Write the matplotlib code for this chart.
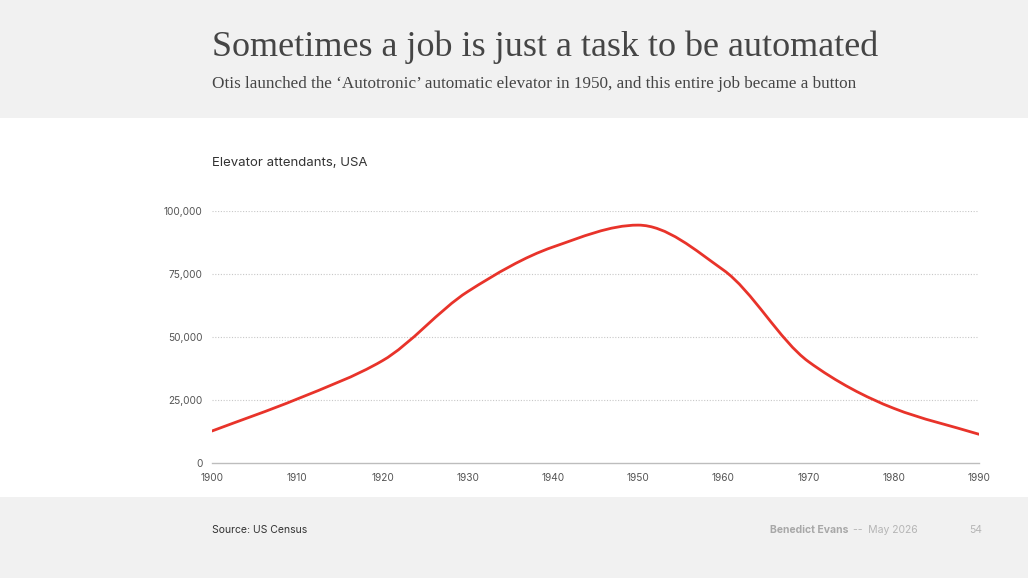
import numpy as np
import matplotlib
matplotlib.use("Agg")
import matplotlib.pyplot as plt
from matplotlib.patches import Rectangle, PathPatch
from matplotlib.path import Path
from matplotlib.ticker import FuncFormatter

# (valeurs par décennie)
annees = [1900, 1910, 1920, 1930, 1940, 1950, 1960, 1970, 1980, 1990]
liftiers = [12700, 25400, 40600, 68000, 85700, 94400, 76600, 40200, 21700, 11400]
yticks = [0, 25000, 50000, 75000, 100000]
xticks = annees

titre = "Sometimes a job is just a task to be automated"
sous_titre = "Otis launched the \u2018Autotronic\u2019 automatic elevator in 1950, and this entire job became a button"
rouge = "#e8332a"


def chemin_lisse(x, y):
    """ courbe monotone (Fritsch-Carlson) en segments de Bézier, comme un graphe 'monotoneX' """
    x = np.asarray(x, float)
    y = np.asarray(y, float)
    h = np.diff(x)
    d = np.diff(y) / h
    m = np.zeros(len(x))
    m[0], m[-1] = d[0], d[-1]
    for i in range(1, len(x) - 1):
        if d[i-1] * d[i] <= 0:
            m[i] = 0
        else:
            m[i] = 3 * (h[i-1] + h[i]) / ((2*h[i] + h[i-1]) / d[i-1] + (h[i] + 2*h[i-1]) / d[i])
    verts = [(x[0], y[0])]
    codes = [Path.MOVETO]
    for i in range(len(x) - 1):
        verts += [(x[i] + h[i]/3, y[i] + m[i]*h[i]/3),
                  (x[i+1] - h[i]/3, y[i+1] - m[i+1]*h[i]/3),
                  (x[i+1], y[i+1])]
        codes += [Path.CURVE4] * 3
    return Path(verts, codes)


W, H = 1028, 578
fig = plt.figure(figsize=(W/100, H/100), dpi=100, facecolor="white")

# bandeaux gris en haut et en bas
fig.patches.append(Rectangle((0, 1 - 118/H), 1, 118/H, transform=fig.transFigure,
                             facecolor="#f1f1f1", edgecolor="none", zorder=0))
fig.patches.append(Rectangle((0, 0), 1, 81/H, transform=fig.transFigure,
                             facecolor="#f1f1f1", edgecolor="none", zorder=0))

fig.text(212/W, 1 - 47/H, titre, family="Liberation Serif", fontsize=26,
         color="#454545", va="center", ha="left")
fig.text(212/W, 1 - 84/H, sous_titre, family="Liberation Serif", fontsize=12.3,
         color="#454545", va="center", ha="left")
fig.text(212/W, 1 - 163/H, "Elevator attendants, USA", family="Inter", fontsize=9.5,
         color="#333333", va="center", ha="left")

ax = fig.add_axes([212/W, 1 - 463/H, (979-212)/W, (463-211)/H])
ax.set_facecolor("white")
ax.add_patch(PathPatch(chemin_lisse(annees, liftiers), facecolor="none",
                       edgecolor=rouge, linewidth=2.0, capstyle="round", zorder=3))
ax.set_xlim(1900, 1990)
ax.set_ylim(0, 100000)
ax.set_xticks(xticks)
ax.set_yticks(yticks)
ax.yaxis.set_major_formatter(FuncFormatter(lambda v, p: f"{int(v):,}"))
for s in ["top", "right", "left"]:
    ax.spines[s].set_visible(False)
ax.spines["bottom"].set_color("#bdbdbd")
ax.spines["bottom"].set_linewidth(1)
ax.tick_params(length=0, labelsize=7.3, labelcolor="#555555")
ax.tick_params(axis="y", pad=7)
ax.tick_params(axis="x", pad=7)
for lab in ax.get_xticklabels() + ax.get_yticklabels():
    lab.set_family("Inter")
for v in yticks[1:]:
    ax.axhline(v, color="#c8c8c8", linewidth=0.8, linestyle=(0, (1, 1.5)), zorder=1)

# pied de page
fig.text(212/W, 1 - 530/H, "Source: US Census", family="Inter", fontsize=7.5,
         color="#333333", va="center", ha="left")
fig.text(848/W, 1 - 530/H, "Benedict Evans", family="Inter", fontsize=7.5,
         fontweight="bold", color="#a8a8a8", va="center", ha="right")
fig.text(853/W, 1 - 530/H, "--  May 2026", family="Inter", fontsize=7.5,
         color="#b5b5b5", va="center", ha="left")
fig.text(982/W, 1 - 530/H, "54", family="Inter", fontsize=7.5,
         color="#b5b5b5", va="center", ha="right")

fig.savefig("out.png", dpi=100, facecolor="white")
